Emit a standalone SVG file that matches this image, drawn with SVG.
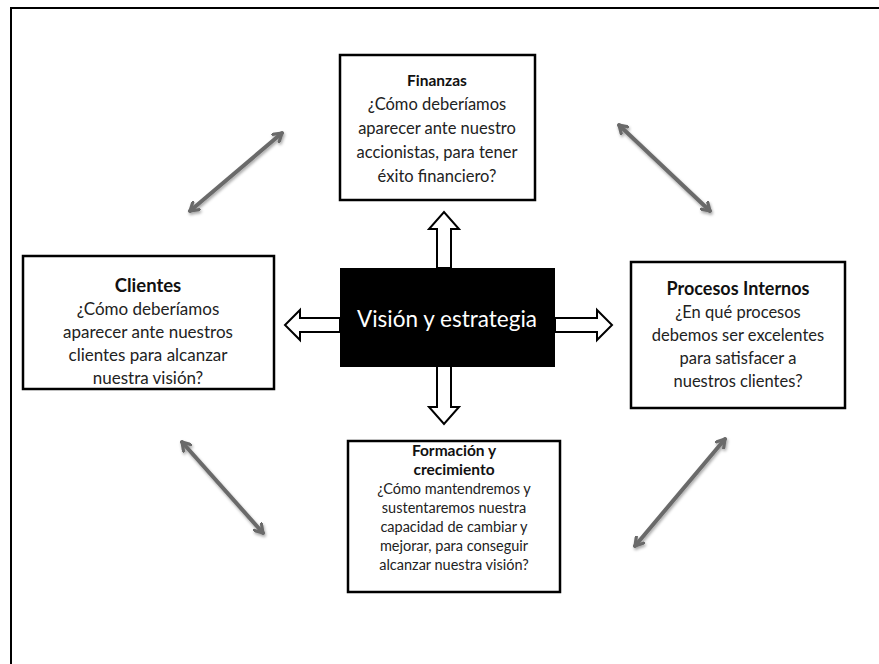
<svg xmlns="http://www.w3.org/2000/svg" width="879" height="664" viewBox="0 0 879 664">
  <style>
    .frame { fill: none; stroke: #000; stroke-width: 2; }
    .box { fill: #fff; stroke: #000; stroke-width: 2.5; }
    .core { fill: #000; }
    .block { fill: #fff; stroke: #000; stroke-width: 2; stroke-linejoin: miter; }
    .link { fill: none; stroke: #6b6b6b; stroke-width: 4; stroke-linecap: round; }
    text { font-family: Lato, "Open Sans", "Liberation Sans", sans-serif; fill: #222; text-anchor: middle; }
    .t { font-weight: bold; fill: #111; }
    .w { fill: #fff; }
  </style>
  <defs>
    <marker id="chev" viewBox="0 0 12 12" refX="9" refY="6" markerWidth="12" markerHeight="12" markerUnits="userSpaceOnUse" orient="auto-start-reverse">
      <path d="M1,1 L9,6 L1,11" fill="none" stroke="#6b6b6b" stroke-width="3.2" stroke-linecap="round" stroke-linejoin="round"/>
    </marker>
    <filter id="soft" x="-20%" y="-20%" width="140%" height="140%">
      <feDropShadow dx="1" dy="2" stdDeviation="1.5" flood-color="#000" flood-opacity="0.35"/>
    </filter>
  </defs>

  <rect width="879" height="664" fill="#fff"/>
  <!-- page frame, left and top edges only in view -->
  <path class="frame" d="M11,664 L11,8 L879,8"/>

  <!-- connectors -->
  <g id="connectors">
    <g filter="url(#soft)">
      <line class="link" x1="190" y1="211" x2="282" y2="133" marker-start="url(#chev)" marker-end="url(#chev)"/>
      <line class="link" x1="619" y1="125" x2="710" y2="211" marker-start="url(#chev)" marker-end="url(#chev)"/>
      <line class="link" x1="182" y1="442" x2="263" y2="533" marker-start="url(#chev)" marker-end="url(#chev)"/>
      <line class="link" x1="635" y1="546" x2="725" y2="439" marker-start="url(#chev)" marker-end="url(#chev)"/>
    </g>
    <!-- hollow block arrows from the core -->
    <polygon class="block" points="437,268 437,229 429,229 444,212 459,229 451,229 451,268"/>
    <polygon class="block" points="437,366 437,407 429,407 444,424 459,407 451,407 451,366"/>
    <polygon class="block" points="340,318 300,318 300,310 285,325 300,340 300,332 340,332"/>
    <polygon class="block" points="555,318 597,318 597,310 612,325 597,340 597,332 555,332"/>
  </g>

  <g id="core">
    <rect class="core" x="340" y="268" width="215" height="99"/>
    <text class="w" x="447" y="327" font-size="22.5">Visión y estrategia</text>
  </g>

  <g id="finanzas">
    <rect class="box" x="340" y="55" width="195" height="145"/>
    <text class="t" x="437" y="86" font-size="15.5">Finanzas</text>
    <text x="437" y="110" font-size="16.5">¿Cómo deberíamos</text>
    <text x="437" y="134" font-size="16.5">aparecer ante nuestro</text>
    <text x="437" y="158" font-size="16.5">accionistas, para tener</text>
    <text x="437" y="182" font-size="16.5">éxito financiero?</text>
  </g>

  <g id="clientes">
    <rect class="box" x="23" y="256" width="251" height="133"/>
    <text class="t" x="148" y="292" font-size="18.5">Clientes</text>
    <text x="148" y="315" font-size="17">¿Cómo deberíamos</text>
    <text x="148" y="338" font-size="17">aparecer ante nuestros</text>
    <text x="148" y="361" font-size="17">clientes para alcanzar</text>
    <text x="148" y="384" font-size="17">nuestra visión?</text>
  </g>

  <g id="procesos">
    <rect class="box" x="631" y="262" width="214" height="146"/>
    <text class="t" x="738" y="295" font-size="18">Procesos Internos</text>
    <text x="738" y="318" font-size="16.5">¿En qué procesos</text>
    <text x="738" y="341" font-size="16.5">debemos ser excelentes</text>
    <text x="738" y="364" font-size="16.5">para satisfacer a</text>
    <text x="738" y="387" font-size="16.5">nuestros clientes?</text>
  </g>

  <g id="formacion">
    <rect class="box" x="348" y="441" width="212" height="151"/>
    <text class="t" x="454" y="456" font-size="15.5">Formación y</text>
    <text class="t" x="454" y="475" font-size="15.5">crecimiento</text>
    <text x="454" y="494" font-size="14.5">¿Cómo mantendremos y</text>
    <text x="454" y="513" font-size="14.5">sustentaremos nuestra</text>
    <text x="454" y="532" font-size="14.5">capacidad de cambiar y</text>
    <text x="454" y="551" font-size="14.5">mejorar, para conseguir</text>
    <text x="454" y="570" font-size="14.5">alcanzar nuestra visión?</text>
  </g>
</svg>
